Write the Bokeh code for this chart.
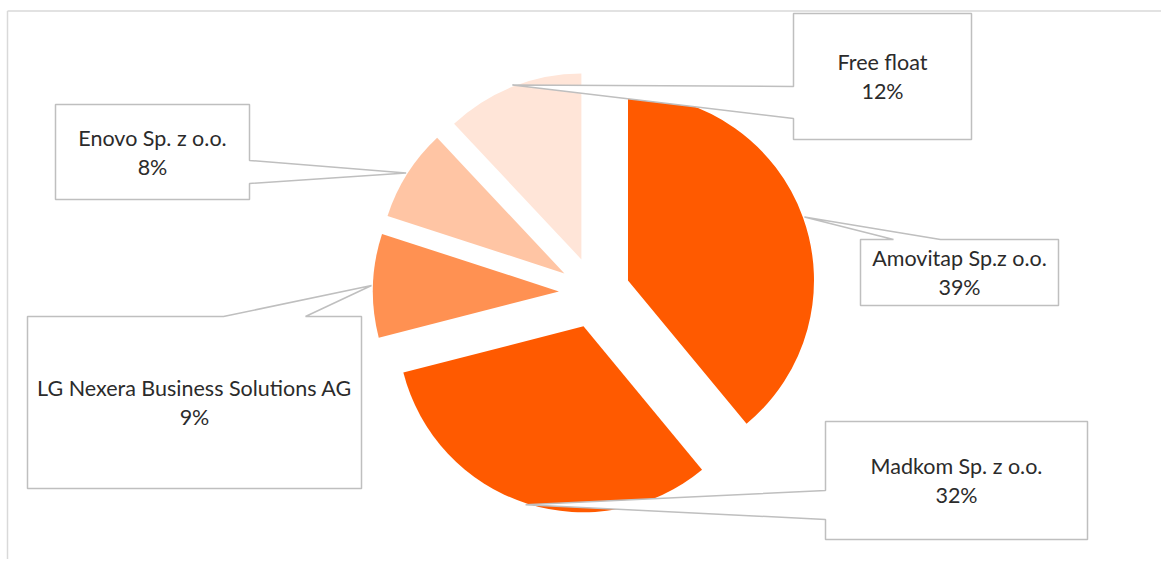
import math
from bokeh.plotting import figure
from bokeh.models import Range1d, ColumnDataSource
from bokeh.core.properties import value
from bokeh.embed import file_html
from bokeh.resources import INLINE

# ---- data ----
owners = ["Amovitap Sp.z o.o.", "Madkom Sp. z o.o.", "LG Nexera Business Solutions AG",
          "Enovo Sp. z o.o.", "Free float"]
shares = [39, 32, 9, 8, 12]

# ---- style ----
slice_colors = ["#FF5A00", "#FF5A00", "#FF9152", "#FFC5A4", "#FFE5D8"]
FONT = "Lato"
TEXT_COLOR = "#2B2B2B"
LINE_COLOR = "#BFBFBF"

W, H = 1161, 559
# data coordinates == screen pixels: x = screen x, y = H - screen y
def sy(y):
    return H - y

p = figure(width=W, height=H, output_backend="svg", toolbar_location=None,
           x_range=Range1d(0, W), y_range=Range1d(0, H),
           min_border=0, outline_line_color=None)
p.axis.visible = False
p.grid.visible = False
p.background_fill_color = "white"
p.border_fill_color = "white"

# chart frame (top & left edges visible in reference)
p.segment(x0=[7, 7], y0=[sy(10.5), sy(10.5)], x1=[W, 7], y1=[sy(10.5), 0],
          line_color="#D9D9D9", line_width=1.5)

# ---- pie geometry ----
cx, cy = 594, sy(292)
R = 186
EXPLODE = 35.6
total = float(sum(shares))

xs, ys, starts, ends, tips = [], [], [], [], []
acc = 0.0
for v in shares:
    a0 = acc / total * 360.0
    acc += v
    a1 = acc / total * 360.0
    th0 = math.radians(90 - a1)
    th1 = math.radians(90 - a0)
    tm = (th0 + th1) / 2
    ax = cx + EXPLODE * math.cos(tm)
    ay = cy + EXPLODE * math.sin(tm)
    xs.append(ax)
    ys.append(ay)
    starts.append(th0)
    ends.append(th1)
    tips.append((ax + (R + 1.5) * math.cos(tm), ay + (R + 1.5) * math.sin(tm)))

src = ColumnDataSource(dict(x=xs, y=ys, start=starts, end=ends, color=slice_colors))
p.wedge(x="x", y="y", radius=R, start_angle="start", end_angle="end",
        direction="anticlock", fill_color="color", line_color=None, source=src)

# ---- callouts (box layout in screen px) ----
boxes = [
    ((860, 239, 1058, 305), "top", (893, 940)),
    ((825, 421, 1087, 539), "left", (490, 519)),
    ((27, 316, 361, 488), "top", (223, 305)),
    ((55, 104, 249, 199), "right", (160, 183)),
    ((793, 13, 971, 139), "left", (86, 118)),
]

px, py = [], []
tx, ty1, ty2, t1, t2 = [], [], [], [], []
for (box, side, base), tip, name, v in zip(boxes, tips, owners, shares):
    l, t, r, b = box
    tipx, tipy = tip
    if side == "top":
        pts = [(l, t), (base[0], t), None, (base[1], t), (r, t), (r, b), (l, b)]
    elif side == "left":
        pts = [(l, t), (r, t), (r, b), (l, b), (l, base[1]), None, (l, base[0])]
    else:  # right
        pts = [(l, t), (r, t), (r, base[0]), None, (r, base[1]), (r, b), (l, b)]
    xx, yy = [], []
    for pt in pts:
        if pt is None:
            xx.append(tipx)
            yy.append(tipy)
        else:
            xx.append(pt[0])
            yy.append(sy(pt[1]))
    px.append(xx)
    py.append(yy)
    mx = (l + r) / 2
    my = (t + b) / 2
    tx.append(mx)
    ty1.append(sy(my - 14.5))
    ty2.append(sy(my + 14.5))
    t1.append(name)
    t2.append(f"{v}%")

p.patches(px, py, fill_color="white", line_color=LINE_COLOR, line_width=1.5)

p.text(x=tx, y=ty1, text=t1, text_font=value(FONT), text_font_size="21.5px",
       text_color=TEXT_COLOR, text_align="center", text_baseline="middle")
p.text(x=tx, y=ty2, text=t2, text_font=value(FONT), text_font_size="21.5px",
       text_color=TEXT_COLOR, text_align="center", text_baseline="middle")

open("out.html", "w").write(file_html(p, INLINE))
